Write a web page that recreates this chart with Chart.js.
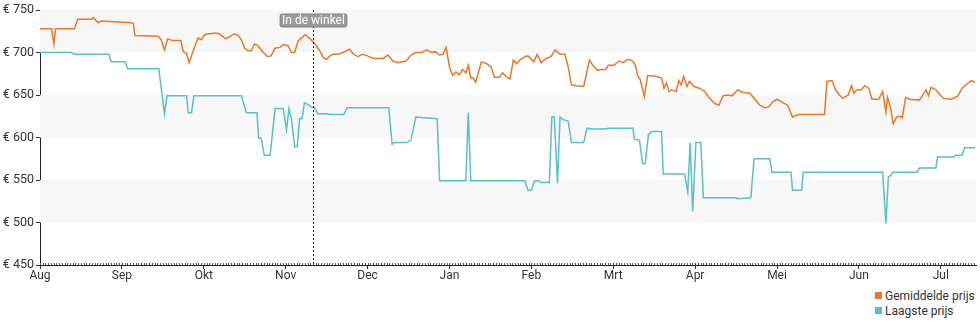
<!DOCTYPE html>
<html>
<head>
<meta charset="utf-8">
<script src="https://cdn.jsdelivr.net/npm/chart.js@4/dist/chart.umd.min.js"></script>
<style>
  body { margin: 0; background: #fff; font-family: Roboto, sans-serif; }
  #wrap { position: relative; width: 980px; height: 325px; }
  #chart { position: absolute; left: 0; top: 0; }
  #legend { position: absolute; left: 875px; top: 289px; font-size: 12px; color: #333; line-height: 15px; }
  .sw { display: inline-block; width: 7px; height: 7px; margin-right: 3px; vertical-align: 1px; }
</style>
</head>
<body>
<div id="wrap">
  <canvas id="chart" width="980" height="285"></canvas>
  <div id="legend">
    <div><span class="sw" style="background:#e8782a"></span>Gemiddelde prijs</div>
    <div><span class="sw" style="background:#5bbfc6"></span>Laagste prijs</div>
  </div>
</div>
<script>
// maanden vanaf augustus (x = maand-index, fractie binnen de maand)
const monthLabels = ["Aug", "Sep", "Okt", "Nov", "Dec", "Jan", "Feb", "Mrt", "Apr", "Mei", "Jun", "Jul"];
const yTicks = [450, 500, 550, 600, 650, 700, 750];
const xMax = 11.43;

const storeMonth = 3.33;
const storeLabel = "In de winkel";

// Gemiddelde prijs
const avgMonths = [0.00, 0.14, 0.17, 0.19, 0.42, 0.46, 0.63, 0.65, 0.71, 0.75, 1.11, 1.14, 1.16, 1.44, 1.48, 1.52, 1.56, 1.62, 1.72, 1.75,
  1.79, 1.82, 1.89, 1.93, 1.97, 2.01, 2.05, 2.09, 2.13, 2.19, 2.23, 2.27, 2.32, 2.38, 2.42, 2.46, 2.50, 2.54, 2.58, 2.62,
  2.66, 2.72, 2.78, 2.82, 2.87, 2.93, 2.97, 3.03, 3.07, 3.11, 3.15, 3.19, 3.24, 3.29, 3.35, 3.41, 3.46, 3.50, 3.54, 3.58,
  3.64, 3.70, 3.78, 3.82, 3.88, 3.94, 4.00, 4.07, 4.19, 4.25, 4.31, 4.37, 4.47, 4.53, 4.59, 4.66, 4.72, 4.78, 4.83, 4.88,
  4.92, 4.96, 5.00, 5.04, 5.08, 5.12, 5.16, 5.20, 5.23, 5.26, 5.29, 5.32, 5.39, 5.45, 5.51, 5.55, 5.61, 5.65, 5.69, 5.74,
  5.78, 5.82, 5.86, 5.92, 5.96, 6.03, 6.07, 6.12, 6.18, 6.24, 6.29, 6.35, 6.41, 6.45, 6.49, 6.55, 6.64, 6.71, 6.75, 6.81,
  6.85, 6.91, 6.94, 7.01, 7.07, 7.12, 7.18, 7.24, 7.27, 7.30, 7.33, 7.38, 7.42, 7.52, 7.59, 7.62, 7.65, 7.68, 7.71, 7.77,
  7.80, 7.83, 7.86, 7.90, 7.93, 7.99, 8.05, 8.11, 8.18, 8.24, 8.29, 8.34, 8.40, 8.45, 8.52, 8.58, 8.67, 8.73, 8.79, 8.85,
  8.90, 8.95, 9.00, 9.07, 9.13, 9.19, 9.26, 9.34, 9.42, 9.50, 9.58, 9.61, 9.67, 9.72, 9.80, 9.87, 9.91, 9.94, 9.97, 10.03,
  10.07, 10.12, 10.16, 10.24, 10.29, 10.33, 10.35, 10.38, 10.42, 10.46, 10.50, 10.53, 10.57, 10.62, 10.74, 10.82, 10.85, 10.88, 10.94, 11.03,
  11.13, 11.21, 11.26, 11.32, 11.37, 11.42];
const avgPrices = [728, 728, 710, 728, 728, 739, 739, 741, 735, 737, 735, 734, 720, 719, 715, 703, 716, 714, 714, 701,
  699, 688, 707, 717, 715, 721, 722, 722, 723, 722, 719, 716, 719, 722, 720, 715, 705, 702, 702, 710,
  708, 701, 695, 696, 705, 706, 709, 708, 700, 700, 713, 717, 721, 717, 711, 703, 694, 692, 696, 698,
  698, 700, 704, 699, 695, 698, 696, 693, 693, 697, 690, 688, 690, 697, 700, 700, 703, 700, 701, 697,
  698, 706, 683, 673, 677, 674, 680, 676, 685, 670, 670, 665, 689, 687, 683, 671, 671, 676, 672, 669,
  691, 687, 691, 695, 696, 689, 698, 688, 693, 695, 703, 698, 698, 683, 662, 661, 660, 691, 685, 679,
  680, 680, 685, 685, 690, 688, 692, 690, 685, 672, 668, 648, 673, 672, 670, 658, 664, 654, 656, 654,
  667, 662, 672, 660, 666, 660, 658, 655, 646, 640, 638, 649, 650, 649, 656, 653, 652, 645, 638, 635,
  636, 642, 645, 641, 638, 624, 627, 627, 627, 627, 627, 666, 667, 655, 646, 650, 661, 652, 656, 656,
  661, 658, 645, 645, 654, 630, 647, 638, 616, 624, 625, 623, 647, 645, 644, 656, 649, 659, 656, 646,
  645, 649, 658, 663, 667, 665];

// Laagste prijs
const lowMonths = [0.00, 0.38, 0.42, 0.84, 0.87, 1.04, 1.07, 1.45, 1.52, 1.55, 1.79, 1.81, 1.85, 1.88, 2.46, 2.52, 2.65, 2.67, 2.70, 2.74,
  2.81, 2.87, 2.97, 3.01, 3.04, 3.07, 3.11, 3.14, 3.17, 3.20, 3.23, 3.27, 3.31, 3.35, 3.39, 3.50, 3.54, 3.71, 3.75, 4.26,
  4.30, 4.33, 4.48, 4.53, 4.59, 4.85, 4.88, 5.20, 5.23, 5.26, 5.92, 5.96, 6.00, 6.04, 6.09, 6.12, 6.22, 6.25, 6.28, 6.32,
  6.35, 6.39, 6.45, 6.49, 6.64, 6.68, 6.75, 6.91, 6.94, 7.24, 7.26, 7.32, 7.36, 7.39, 7.43, 7.47, 7.59, 7.61, 7.87, 7.91,
  7.94, 7.97, 8.01, 8.07, 8.10, 8.50, 8.52, 8.68, 8.72, 8.91, 8.94, 9.17, 9.19, 9.30, 9.32, 10.29, 10.33, 10.36, 10.39, 10.41,
  10.71, 10.74, 10.94, 10.96, 11.16, 11.18, 11.26, 11.29, 11.42];
const lowPrices = [700, 700, 698, 698, 689, 689, 681, 681, 628, 649, 649, 629, 629, 649, 649, 629, 629, 599, 599, 579,
  579, 634, 634, 609, 634, 622, 589, 589, 622, 622, 641, 639, 636, 635, 628, 628, 627, 627, 635, 635,
  592, 594, 594, 597, 624, 622, 549, 549, 629, 549, 549, 538, 538, 549, 549, 547, 547, 624, 624, 546,
  624, 621, 619, 594, 594, 611, 610, 610, 611, 611, 598, 597, 569, 569, 603, 607, 607, 557, 557, 536,
  594, 513, 594, 594, 529, 529, 528, 529, 575, 575, 559, 559, 538, 538, 559, 559, 499, 554, 555, 559,
  559, 564, 564, 577, 577, 579, 579, 588, 588];

const toPoints = (xs, ys) => xs.map((x, i) => ({ x: x, y: ys[i] }));

const bandsPlugin = {
  id: "bands",
  beforeDatasetsDraw(chart) {
    const { ctx, chartArea, scales } = chart;
    const y = scales.y;
    ctx.save();
    ctx.fillStyle = "#f7f7f7";
    for (let i = 0; i + 1 < yTicks.length; i++) {
      if (i % 2 === 0) continue; // 500-550, 600-650, 700-750
      const top = y.getPixelForValue(yTicks[i + 1]);
      const bottom = y.getPixelForValue(yTicks[i]);
      ctx.fillRect(chartArea.left, top, chartArea.right - chartArea.left, bottom - top);
    }
    ctx.restore();
  },
};

const extrasPlugin = {
  id: "extras",
  afterDraw(chart) {
    const { ctx, chartArea, scales } = chart;
    const x = scales.x;
    ctx.save();
    // kleine dag-streepjes op de x-as
    ctx.strokeStyle = "#555";
    ctx.lineWidth = 1;
    ctx.beginPath();
    for (let m = 0; m <= xMax; m += 1 / 30) {
      const px = Math.round(x.getPixelForValue(m)) + 0.5;
      ctx.moveTo(px, chartArea.bottom - 2);
      ctx.lineTo(px, chartArea.bottom);
    }
    ctx.stroke();

    // "In de winkel" lijn
    const sx = Math.round(x.getPixelForValue(storeMonth)) + 0.5;
    ctx.setLineDash([2, 2]);
    ctx.strokeStyle = "#222";
    ctx.beginPath();
    ctx.moveTo(sx, chartArea.top);
    ctx.lineTo(sx, chartArea.bottom);
    ctx.stroke();
    ctx.setLineDash([]);

    ctx.font = "12px Roboto, sans-serif";
    const w = ctx.measureText(storeLabel).width + 4;
    const h = 13;
    const bx = sx - w / 2;
    const by = chartArea.top + 4;
    ctx.fillStyle = "#9b9b9b";
    ctx.strokeStyle = "#808080";
    ctx.beginPath();
    ctx.roundRect(bx, by, w, h, 2);
    ctx.fill();
    ctx.stroke();
    ctx.fillStyle = "#fff";
    ctx.textAlign = "center";
    ctx.textBaseline = "middle";
    ctx.fillText(storeLabel, sx, by + h / 2 + 0.5);
    ctx.restore();
  },
};

const ctx = document.getElementById("chart").getContext("2d");
new Chart(ctx, {
  type: "line",
  data: {
    datasets: [
      {
        label: "Gemiddelde prijs",
        data: toPoints(avgMonths, avgPrices),
        borderColor: "#e8782a",
        backgroundColor: "#e8782a",
        borderWidth: 1.5,
        pointRadius: 0,
        tension: 0,
      },
      {
        label: "Laagste prijs",
        data: toPoints(lowMonths, lowPrices),
        borderColor: "#5bbfc6",
        backgroundColor: "#5bbfc6",
        borderWidth: 1.5,
        pointRadius: 0,
        tension: 0,
      },
    ],
  },
  options: {
    responsive: false,
    animation: false,
    layout: { padding: { top: 10, right: 4, left: 0, bottom: 0 } },
    plugins: {
      legend: { display: false },
      tooltip: { enabled: false },
    },
    scales: {
      x: {
        type: "linear",
        min: 0,
        max: xMax,
        afterBuildTicks: (scale) => {
          scale.ticks = monthLabels.map((l, i) => ({ value: i }));
        },
        afterFit: (scale) => { scale.height = 20; },
        ticks: {
          autoSkip: false,
          maxRotation: 0,
          padding: 0,
          color: "#333",
          font: { family: "Roboto", size: 12 },
          callback: (value) => monthLabels[Math.round(value)],
        },
        grid: { drawOnChartArea: false, tickLength: 4, tickColor: "#333" },
        border: { display: true, color: "#222", width: 1 },
      },
      y: {
        min: 450,
        max: 750,
        afterBuildTicks: (scale) => {
          scale.ticks = yTicks.map((v) => ({ value: v }));
        },
        afterFit: (scale) => { scale.width = 40; },
        ticks: {
          padding: 2,
          color: "#333",
          font: { family: "Roboto", size: 12.5 },
          callback: (value) => "€ " + value,
        },
        grid: { drawOnChartArea: false, tickLength: 4, tickColor: "#333" },
        border: { display: true, color: "#222", width: 1 },
      },
    },
  },
  plugins: [bandsPlugin, extrasPlugin],
});
</script>
</body>
</html>
